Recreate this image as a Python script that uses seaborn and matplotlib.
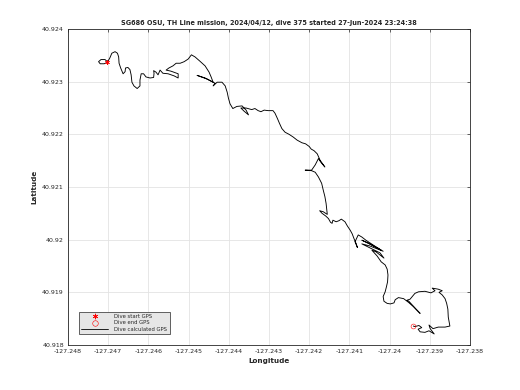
import matplotlib
matplotlib.use("Agg")
import matplotlib.pyplot as plt
from matplotlib.ticker import FuncFormatter, MultipleLocator
from matplotlib.lines import Line2D
import numpy as np
import pandas as pd
import seaborn as sns

title = "SG686 OSU, TH Line mission, 2024/04/12, dive 375 started 27-Jun-2024 23:24:38"

# dive start / end GPS fixes
start_lon, start_lat = -127.24702, 40.92338
end_lon, end_lat = -127.23941, 40.91836

# calculated track
track_lon = [
    -127.24702, -127.24708, -127.24718, -127.24724, -127.24720, -127.24710, -127.24702, -127.24696,
    -127.24691, -127.24683, -127.24677, -127.24674, -127.24673, -127.24669, -127.24663, -127.24658,
    -127.24657, -127.24651, -127.24646, -127.24643, -127.24641, -127.24636, -127.24628, -127.24621,
    -127.24621, -127.24618, -127.24612, -127.24606, -127.24596, -127.24587, -127.24586, -127.24587,
    -127.24581, -127.24576, -127.24571, -127.24564, -127.24551, -127.24536, -127.24526, -127.24526,
    -127.24544, -127.24556, -127.24549, -127.24539, -127.24531, -127.24521, -127.24511, -127.24501,
    -127.24493, -127.24484, -127.24472, -127.24459, -127.24449, -127.24444, -127.24439, -127.24459,
    -127.24479, -127.24454, -127.24434, -127.24439, -127.24429, -127.24417, -127.24409, -127.24404,
    -127.24401, -127.24397, -127.24390, -127.24380, -127.24367, -127.24357, -127.24351, -127.24362,
    -127.24370, -127.24357, -127.24343, -127.24335, -127.24327, -127.24320, -127.24312, -127.24302,
    -127.24290, -127.24285, -127.24279, -127.24274, -127.24268, -127.24260, -127.24250, -127.24240,
    -127.24230, -127.24218, -127.24209, -127.24200, -127.24195, -127.24188, -127.24180, -127.24173,
    -127.24164, -127.24161, -127.24171, -127.24177, -127.24185, -127.24194, -127.24210, -127.24194,
    -127.24185, -127.24177, -127.24169, -127.24165, -127.24161, -127.24158, -127.24156, -127.24155,
    -127.24165, -127.24174, -127.24168, -127.24159, -127.24152, -127.24147, -127.24143, -127.24141,
    -127.24133, -127.24126, -127.24120, -127.24111, -127.24105, -127.24098, -127.24093, -127.24088,
    -127.24083, -127.24080, -127.24086, -127.24078, -127.24069, -127.24059, -127.24049, -127.24021,
    -127.24054, -127.24069, -127.24029, -127.24016, -127.24049, -127.24069, -127.24024, -127.24014,
    -127.24034, -127.24044, -127.24031, -127.24021, -127.24011, -127.24006, -127.24004, -127.24005,
    -127.24008, -127.24011, -127.24016, -127.24014, -127.24006, -127.23998, -127.23989, -127.23986,
    -127.23978, -127.23965, -127.23953, -127.23941, -127.23932, -127.23924, -127.23934, -127.23952,
    -127.23957, -127.23949, -127.23937, -127.23928, -127.23912, -127.23897, -127.23887, -127.23894,
    -127.23879, -127.23869, -127.23877, -127.23869, -127.23862, -127.23858, -127.23855, -127.23854,
    -127.23850, -127.23862, -127.23879, -127.23892, -127.23902, -127.23899, -127.23889, -127.23902,
    -127.23912, -127.23924, -127.23929, -127.23920, -127.23927, -127.23937, -127.23941,
]
track_lat = [
    40.92338, 40.92342, 40.92342, 40.92338, 40.92334, 40.92334, 40.92337, 40.92345,
    40.92354, 40.92357, 40.92354, 40.92347, 40.92335, 40.92326, 40.92315, 40.92319,
    40.92326, 40.92327, 40.92323, 40.92313, 40.92299, 40.92292, 40.92287, 40.92292,
    40.92303, 40.92315, 40.92315, 40.92309, 40.92307, 40.92308, 40.92316, 40.92321,
    40.92318, 40.92313, 40.92322, 40.92316, 40.92315, 40.92311, 40.92307, 40.92315,
    40.92320, 40.92322, 40.92326, 40.92330, 40.92335, 40.92335, 40.92338, 40.92343,
    40.92351, 40.92347, 40.92339, 40.92330, 40.92318, 40.92309, 40.92299, 40.92307,
    40.92312, 40.92305, 40.92297, 40.92292, 40.92299, 40.92299, 40.92292, 40.92280,
    40.92269, 40.92258, 40.92249, 40.92253, 40.92254, 40.92246, 40.92237, 40.92244,
    40.92250, 40.92250, 40.92247, 40.92249, 40.92245, 40.92243, 40.92246, 40.92245,
    40.92245, 40.92240, 40.92230, 40.92221, 40.92211, 40.92204, 40.92200, 40.92195,
    40.92189, 40.92184, 40.92182, 40.92177, 40.92172, 40.92169, 40.92163, 40.92151,
    40.92141, 40.92138, 40.92147, 40.92154, 40.92142, 40.92132, 40.92132, 40.92131,
    40.92128, 40.92119, 40.92107, 40.92094, 40.92082, 40.92069, 40.92056, 40.92048,
    40.92053, 40.92055, 40.92050, 40.92045, 40.92040, 40.92033, 40.92031, 40.92037,
    40.92034, 40.92036, 40.92039, 40.92034, 40.92026, 40.92018, 40.92011, 40.92001,
    40.91992, 40.91985, 40.91996, 40.92009, 40.92005, 40.91999, 40.91994, 40.91980,
    40.91994, 40.91999, 40.91984, 40.91978, 40.91988, 40.91992, 40.91975, 40.91965,
    40.91977, 40.91980, 40.91969, 40.91958, 40.91952, 40.91944, 40.91933, 40.91920,
    40.91910, 40.91901, 40.91892, 40.91883, 40.91879, 40.91878, 40.91880, 40.91886,
    40.91890, 40.91888, 40.91881, 40.91873, 40.91866, 40.91860, 40.91868, 40.91883,
    40.91885, 40.91887, 40.91898, 40.91901, 40.91902, 40.91899, 40.91903, 40.91908,
    40.91906, 40.91903, 40.91900, 40.91895, 40.91888, 40.91879, 40.91868, 40.91853,
    40.91836, 40.91834, 40.91834, 40.91831, 40.91838, 40.91831, 40.91821, 40.91827,
    40.91824, 40.91825, 40.91830, 40.91833, 40.91837, 40.91835, 40.91836,
]

legend_labels = ["Dive start GPS", "Dive end GPS", "Dive calculated GPS"]


def matlab_fmt(v, pos=None):
    # MATLAB style tick labels: drop trailing zeros
    return f"{round(v, 3):.3f}".rstrip("0").rstrip(".")


sns.set_theme(style="whitegrid")
plt.rcParams["font.family"] = ["DejaVu Sans"]

fig = plt.figure(figsize=(5.2, 3.9), dpi=100)
ax = fig.add_axes([0.1308, 0.1154, 0.7730, 0.8102])

asterisk = (6, 2, 0)  # MATLAB '*' marker

track = pd.DataFrame({"lon": track_lon, "lat": track_lat})
sns.lineplot(data=track, x="lon", y="lat", sort=False, estimator=None,
             color="black", linewidth=0.65, ax=ax)
ax.plot(start_lon, start_lat, marker=asterisk, color="red", markersize=3.5,
        markeredgewidth=0.4, linestyle="none")
ax.plot(end_lon, end_lat, marker="o", markerfacecolor="none",
        markeredgecolor="red", markersize=3.5, markeredgewidth=0.4, linestyle="none")

ax.set_xlim(-127.248, -127.238)
ax.set_ylim(40.918, 40.924)
ax.xaxis.set_major_locator(MultipleLocator(0.001))
ax.yaxis.set_major_locator(MultipleLocator(0.001))
ax.xaxis.set_major_formatter(FuncFormatter(matlab_fmt))
ax.yaxis.set_major_formatter(FuncFormatter(matlab_fmt))

ax.set_facecolor("white")
ax.grid(True, color="#e3e3e3", linewidth=0.6)
for s in ax.spines.values():
    s.set_color("#262626")
    s.set_linewidth(0.6)
ax.tick_params(direction="in", length=2.5, width=0.5, top=True, right=True,
               labelsize=4.5, pad=3, colors="#262626")

ax.set_title(title, fontsize=4.7, fontweight="bold", pad=3)
ax.set_xlabel("Longitude", fontsize=5.2, fontweight="bold", labelpad=3)
ax.set_ylabel("Latitude", fontsize=5.2, fontweight="bold", labelpad=3)

handles = [
    Line2D([], [], marker=asterisk, color="red", linestyle="none", markersize=4, markeredgewidth=0.4),
    Line2D([], [], marker="o", markerfacecolor="none", markeredgecolor="red",
           linestyle="none", markersize=4, markeredgewidth=0.4),
    Line2D([], [], color="black", linewidth=0.6),
]
leg = ax.legend(handles, legend_labels,
                loc="lower left", bbox_to_anchor=(0.02, 0.025), fontsize=3.8,
                frameon=True, fancybox=False, handlelength=5, borderpad=0.5,
                labelspacing=0.25, handletextpad=1.2)
leg.get_frame().set_facecolor("#e6e6e6")
leg.get_frame().set_edgecolor("#262626")
leg.get_frame().set_linewidth(0.5)
leg.get_frame().set_alpha(1)

fig.savefig("out.png", dpi=100)
